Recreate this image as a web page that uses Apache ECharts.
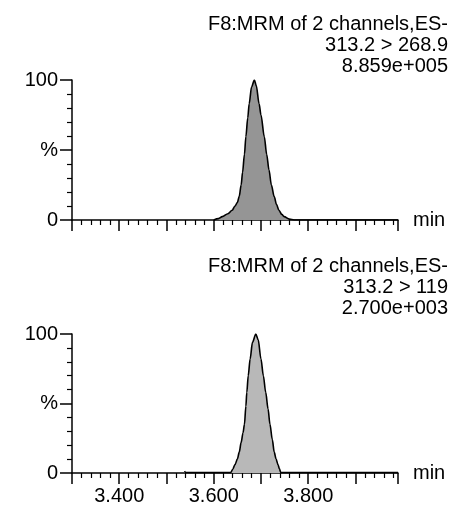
<!DOCTYPE html>
<html>
<head>
<meta charset="utf-8">
<script src="https://cdn.jsdelivr.net/npm/echarts@6/dist/echarts.min.js"></script>
<style>
html,body{margin:0;padding:0;background:#fff;}
#chart{width:451px;height:514px;}
</style>
</head>
<body>
<div id="chart"></div>
<script>
// ---- data ----
var topTitle = ['F8:MRM of 2 channels,ES-', '313.2 > 268.9', '8.859e+005'];
var bottomTitle = ['F8:MRM of 2 channels,ES-', '313.2 > 119', '2.700e+003'];

var topTimes = [3.600, 3.610, 3.618, 3.630, 3.639, 3.645, 3.650, 3.654, 3.658, 3.661, 3.665, 3.668, 3.672, 3.675, 3.680, 3.686, 3.690, 3.696, 3.700, 3.707, 3.712, 3.717, 3.722, 3.728, 3.733, 3.738, 3.744, 3.749, 3.760, 3.770, 3.990];
var topIntensity = [0, 1, 2.4, 4.5, 7, 10, 12.5, 17, 25, 34, 47, 59.5, 73, 83, 95, 100, 96, 83, 75, 59.5, 47, 35.7, 25, 16.7, 11, 7, 4, 2.4, 0.6, 0, 0];

var bottomTimes = [3.538, 3.541, 3.636, 3.640, 3.645, 3.650, 3.654, 3.658, 3.662, 3.665, 3.668, 3.670, 3.673, 3.677, 3.682, 3.689, 3.694, 3.700, 3.705, 3.710, 3.715, 3.719, 3.724, 3.728, 3.732, 3.736, 3.739, 3.742, 3.990];
var bottomIntensity = [1.2, 0.3, 0.3, 2.5, 6, 10, 15, 22, 29, 35, 48, 58, 70, 82, 94, 100, 96, 82, 70, 58, 46, 35, 24, 15, 10, 6, 3, 0.3, 0.3];

var xLabelValues = [3.4, 3.6, 3.8];
var yLabelMap = [[0, '0'], [50, '%'], [100, '100']];
var axisName = 'min';

// ---- chart ----
var FONT = '"Liberation Sans", Arial, sans-serif';
function pairs(xs, ys) { return xs.map(function (x, i) { return [x, ys[i]]; }); }
function xFmt(v) {
  for (var i = 0; i < xLabelValues.length; i++) {
    if (Math.abs(v - xLabelValues[i]) < 1e-6) return xLabelValues[i].toFixed(3);
  }
  return '';
}
function yFmt(v) {
  for (var i = 0; i < yLabelMap.length; i++) {
    if (Math.abs(v - yLabelMap[i][0]) < 1e-6) return yLabelMap[i][1];
  }
  return '';
}
function xAxis(idx, showLabels) {
  return {
    type: 'value', gridIndex: idx, min: 3.3, max: 3.99, interval: 0.1,
    axisLine: { show: true, lineStyle: { color: '#000', width: 1.5 } },
    axisTick: { show: true, length: 11, lineStyle: { color: '#000', width: 1.5 } },
    minorTick: { show: true, splitNumber: 5, length: 5, lineStyle: { color: '#000', width: 1.2 } },
    splitLine: { show: false },
    axisLabel: { show: showLabels, formatter: xFmt, color: '#000', fontSize: 20, fontFamily: FONT, margin: 13, showMinLabel: false, showMaxLabel: false },
    name: axisName, nameLocation: 'end', nameGap: 15,
    nameTextStyle: { color: '#000', fontSize: 20, fontFamily: FONT, verticalAlign: 'middle' }
  };
}
function yAxis(idx) {
  return {
    type: 'value', gridIndex: idx, min: 0, max: 100, interval: 50,
    axisLine: { show: true, lineStyle: { color: '#000', width: 1.5 } },
    axisTick: { show: true, length: 12, lineStyle: { color: '#000', width: 1.5 } },
    minorTick: { show: true, splitNumber: 5, length: 5, lineStyle: { color: '#000', width: 1.2 } },
    splitLine: { show: false },
    axisLabel: { formatter: yFmt, color: '#000', fontSize: 20, fontFamily: FONT, margin: 14 }
  };
}
function series(idx, xs, ys, fill) {
  return {
    type: 'line', xAxisIndex: idx, yAxisIndex: idx,
    data: pairs(xs, ys), showSymbol: false, symbol: 'none',
    smooth: 0.3, smoothMonotone: 'x',
    lineStyle: { color: '#000', width: 1.6 },
    areaStyle: { color: fill, opacity: 1 },
    z: 1
  };
}
function titleOpt(lines, top) {
  return {
    text: lines.join('\n'), left: 443, top: top, textAlign: 'right',
    textStyle: { fontSize: 20, fontWeight: 'normal', color: '#000', fontFamily: FONT, lineHeight: 21 }
  };
}
var chart = echarts.init(document.getElementById('chart'), null, { renderer: 'canvas' });
chart.setOption({
  animation: false,
  backgroundColor: '#fff',
  title: [titleOpt(topTitle, 9), titleOpt(bottomTitle, 251)],
  grid: [
    { left: 72, right: 53, top: 80, height: 140 },
    { left: 72, right: 53, top: 334, height: 139 }
  ],
  xAxis: [xAxis(0, false), xAxis(1, true)],
  yAxis: [yAxis(0), yAxis(1)],
  series: [
    series(0, topTimes, topIntensity, '#959595'),
    series(1, bottomTimes, bottomIntensity, '#b8b8b8')
  ]
});
</script>
</body>
</html>
